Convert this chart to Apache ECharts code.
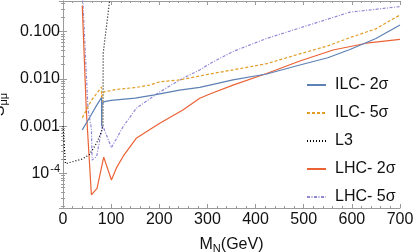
<!DOCTYPE html>
<html><head><meta charset="utf-8">
<script src="https://cdn.jsdelivr.net/npm/echarts@6/dist/echarts.min.js"></script>
<style>html,body{margin:0;padding:0;background:#fff}#c{width:415px;height:252px}</style>
</head><body><div id="c"></div>
<script>
// ---- data ----
const seriesNames = ['ILC- 2σ', 'ILC- 5σ', 'L3', 'LHC- 2σ', 'LHC- 5σ'];

const ilc2M = [40, 55, 72, 80, 80.4, 81, 86, 100, 150, 190, 242, 284, 305, 353, 423, 492, 550, 596, 650, 700];
const ilc2S = [8.3e-4, 1.5e-3, 3.0e-3, 4.0e-3, 1.0e-3, 3.0e-3, 3.3e-3, 3.5e-3, 3.9e-3, 4.6e-3, 5.8e-3, 6.6e-3, 7.4e-3, 9.5e-3, 0.0127, 0.0197, 0.028, 0.042, 0.072, 0.138];

const ilc5M = [40, 59, 80, 80.4, 81, 87, 97, 111, 152, 180, 201, 242, 284, 305, 353, 423, 492, 550, 596, 650, 700];
const ilc5S = [1.5e-3, 3.5e-3, 6.7e-3, 1.1e-3, 4.8e-3, 5.4e-3, 5.6e-3, 6.0e-3, 6.6e-3, 7.4e-3, 8.7e-3, 9.5e-3, 0.0115, 0.0127, 0.0155, 0.021, 0.034, 0.05, 0.075, 0.115, 0.226];

const l3M = [0, 5, 40, 55, 70, 80, 83, 83.5, 97, 100];
const l3S = [1.0e-3, 1.6e-4, 2.0e-4, 2.5e-4, 4.4e-4, 7.6e-4, 1.0e-3, 0.035, 0.47, 0.8];

const lhc2M = [40, 48.4, 59, 70.7, 84.6, 100.6, 111, 125, 152, 201, 249, 284, 305, 353, 423, 492, 561, 630, 700];
const lhc2S = [0.36, 2.2e-3, 3.5e-5, 4.8e-5, 2.2e-4, 7.2e-5, 1.3e-4, 2.3e-4, 5.5e-4, 1.15e-3, 2.2e-3, 3.9e-3, 4.8e-3, 7.4e-3, 0.013, 0.024, 0.041, 0.057, 0.069];

const lhc5M = [41, 52, 59, 60.5, 70, 82, 100.6, 125, 152.5, 201, 249, 284, 305, 353, 423, 492, 596, 700];
const lhc5S = [0.5, 2.2e-3, 9e-4, 1.9e-4, 2.3e-4, 1.05e-3, 3.5e-4, 9.8e-4, 2.4e-3, 5.3e-3, 0.0103, 0.0155, 0.021, 0.038, 0.072, 0.12, 0.26, 0.34];

const yTickValues = [0.1, 0.01, 0.001, 1e-4];
const yTickLabels = ['0.100', '0.010', '0.001', '{b|10}{sup|-4}'];
const xMin = 0, xMax = 700, xStep = 100;
const yMin = 1.84e-5, yMax = 0.447;

// ---- build ----
const zip = (a, b) => a.map((v, i) => [v, b[i]]);
const FONT = '"Liberation Sans", Arial, sans-serif';
const frame = '#9a9a9a';

function yLabel(v) {
  for (let i = 0; i < yTickValues.length; i++) {
    if (Math.abs(Math.log10(v) - Math.log10(yTickValues[i])) < 1e-6) return yTickLabels[i];
  }
  return '';
}

const chart = echarts.init(document.getElementById('c'), null, {renderer: 'canvas'});
const styles = [
  {color: '#5E81B5', type: 'solid'},
  {color: '#E19C24', type: [3, 2]},
  {color: '#000000', type: [1, 2]},
  {color: '#EB6235', type: 'solid'},
  {color: '#8F88D6', type: [3, 1.5, 1, 1.5]}
];
const datas = [zip(ilc2M, ilc2S), zip(ilc5M, ilc5S), zip(l3M, l3S), zip(lhc2M, lhc2S), zip(lhc5M, lhc5S)];

const axisBase = {
  axisLine: {show: true, lineStyle: {color: frame, width: 1}},
  splitLine: {show: false}
};

chart.setOption({
  animation: false,
  backgroundColor: '#fff',
  textStyle: {fontFamily: FONT},
  grid: {left: 63, right: 15, top: 1, bottom: 44, containLabel: false, outerBoundsMode: 'none'},
  legend: {
    orient: 'vertical', left: 301, top: 72,
    itemWidth: 19, itemHeight: 14, itemGap: 12,
    itemStyle: {opacity: 0, borderWidth: 0},
    textStyle: {fontFamily: FONT, fontSize: 16, color: '#111', lineHeight: 16, padding: [0, 0, 0, 4]},
    data: seriesNames
  },
  xAxis: [
    Object.assign({}, axisBase, {
      type: 'value', min: xMin, max: xMax, interval: xStep, position: 'bottom',
      axisTick: {show: true, inside: true, length: 4, lineStyle: {color: frame}},
      minorTick: {show: true, splitNumber: 5, length: 2, lineStyle: {color: frame}},
      axisLabel: {fontFamily: FONT, fontSize: 16, color: '#111', margin: 4},
      name: 'M{sub|N}(GeV)', nameLocation: 'middle', nameGap: 27,
      nameTextStyle: {fontFamily: FONT, fontSize: 16, color: '#111',
        rich: {sub: {fontSize: 11, fontFamily: FONT, color: '#111', padding: [8, 0, 0, 0]}}}
    }),
    Object.assign({}, axisBase, {
      type: 'value', min: xMin, max: xMax, interval: xStep, position: 'top',
      axisTick: {show: true, inside: true, length: 4, lineStyle: {color: frame}},
      minorTick: {show: true, splitNumber: 5, length: 2, lineStyle: {color: frame}},
      axisLabel: {show: false}
    })
  ],
  yAxis: [
    Object.assign({}, axisBase, {
      type: 'log', logBase: 10, min: yMin, max: yMax, position: 'left',
      axisTick: {show: true, inside: true, length: 4, lineStyle: {color: frame}},
      minorTick: {show: true, splitNumber: 9, length: 2, lineStyle: {color: frame}},
      axisLabel: {
        fontFamily: FONT, fontSize: 16, color: '#111', margin: 3,
        showMinLabel: false, showMaxLabel: false,
        formatter: yLabel,
        rich: {
          b: {fontSize: 16, fontFamily: FONT, color: '#111'},
          sup: {fontSize: 11, fontFamily: FONT, color: '#111', padding: [0, 0, 9, 1]}
        }
      },
      name: 'S{sub|μμ}', nameLocation: 'middle', nameRotate: 90, nameGap: 43,
      nameTextStyle: {fontFamily: FONT, fontSize: 16, color: '#111',
        rich: {sub: {fontSize: 11, fontFamily: FONT, color: '#111', padding: [8, 0, 0, 0]}}}
    }),
    Object.assign({}, axisBase, {
      type: 'log', logBase: 10, min: yMin, max: yMax, position: 'right',
      axisTick: {show: true, inside: true, length: 4, lineStyle: {color: frame}},
      minorTick: {show: true, splitNumber: 9, length: 2, lineStyle: {color: frame}},
      axisLabel: {show: false}
    })
  ],
  series: seriesNames.map((n, i) => ({
    name: n, type: 'line', xAxisIndex: 0, yAxisIndex: 0,
    data: datas[i], symbol: 'none', showSymbol: false, clip: true,
    color: styles[i].color,
    lineStyle: {color: styles[i].color, width: 1.2, type: styles[i].type},
    z: 5 - i
  }))
});
</script></body></html>
